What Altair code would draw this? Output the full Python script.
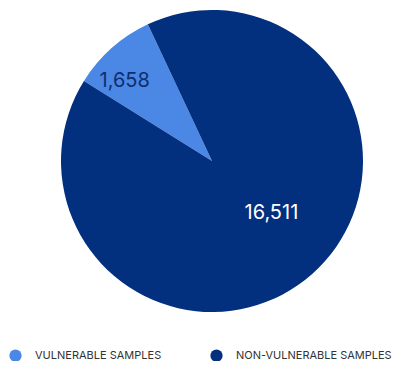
import altair as alt
import pandas as pd
import math

categories = ["VULNERABLE SAMPLES", "NON-VULNERABLE SAMPLES"]
values = [1658, 16511]
labels = ["1,658", "16,511"]
colors = ["#4B87E5", "#02307F"]
label_colors = ["#0E2F6E", "#FFFFFF"]

df = pd.DataFrame({"cat": categories, "value": values, "label": labels,
                   "order": [0, 1]})

start = math.radians(302)
theta = alt.Theta("value:Q", stack=True,
                  scale=alt.Scale(range=[start, start + 2 * math.pi]))
color = alt.Color("cat:N", sort=categories,
                  scale=alt.Scale(domain=categories, range=colors),
                  legend=alt.Legend(title=None, orient="none", legendX=1, legendY=341,
                                    direction="horizontal", symbolType="circle",
                                    symbolSize=150, symbolStrokeWidth=0,
                                    labelFontSize=11, labelColor="#333333",
                                    labelFont="Inter", labelOffset=13,
                                    columnPadding=48))
cx, cy = 204, 153
base = alt.Chart(df).encode(theta=theta, order=alt.Order("order:Q"))

pie = base.mark_arc(radius=151, x=cx, y=cy, stroke=None).encode(color=color)

t1 = base.mark_text(radius=118, x=cx, y=cy, dx=-9, dy=8, fontSize=20, font="Inter",
                    color=label_colors[0]).encode(
    text="label:N", opacity=alt.condition(alt.datum.order == 0, alt.value(1), alt.value(0)))
t2 = base.mark_text(radius=79, x=cx, y=cy, dx=7, dy=-7, fontSize=20, font="Inter",
                    color=label_colors[1]).encode(
    text="label:N", opacity=alt.condition(alt.datum.order == 1, alt.value(1), alt.value(0)))

chart = alt.layer(pie, t1, t2).properties(
    width=389, height=353, padding=0,
    autosize=alt.AutoSizeParams(type="none")
).configure_view(stroke=None)

chart.save("out.html", embed_options={"renderer": "svg", "actions": False})
